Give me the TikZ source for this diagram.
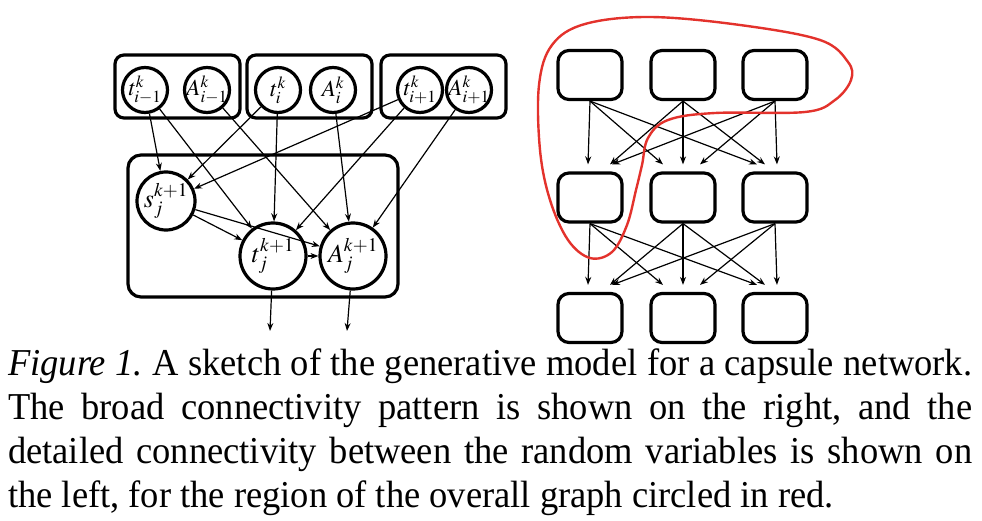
\documentclass[tikz,border=0pt]{standalone}
\usepackage{mathptmx}
\usepackage{fontspec}
\setmainfont{Liberation Serif}[FakeStretch=0.96]
\usetikzlibrary{arrows.meta, positioning, calc}
\definecolor{circledRed}{HTML}{E3322C}

\begin{document}
\begin{tikzpicture}[
    x=1pt, y=-1pt,
    var/.style={circle, draw, line width=3.2pt, minimum size=45pt, inner sep=0pt,
                label={[font=\fontsize{23}{24}\selectfont]center:#1}},
    bigvar/.style={circle, draw, line width=3.2pt, minimum size=66pt, inner sep=0pt,
                   label={[font=\fontsize{26}{28}\selectfont]center:#1}},
    group/.style={rectangle, draw, line width=3.2pt, rounded corners=9pt,
                  minimum width=125pt, minimum height=63pt},
    capsule/.style={rectangle, draw, line width=3.2pt, rounded corners=11pt,
                    minimum width=64pt, minimum height=49pt},
    arrow/.style={-{Stealth[length=8pt, width=6pt]}, line width=1.2pt}
  ]
    \useasboundingbox (0,0) rectangle (982,521);

    % left: detailed variables
    \node[group] (grp1) at (177.5,86.5) {};
    \node[group] (grp2) at (309.5,86.5) {};
    \node[group] (grp3) at (443.5,86.5) {};
    \node[group, minimum width=270pt, minimum height=142pt, rounded corners=13pt] (grpj) at (263,226) {};

    \node[var={$t^k_{i-1}$}] (tim1) at (145,90) {};
    \node[var={$A^k_{i-1}$}] (Aim1) at (207,90) {};
    \node[var={$t^k_{i}$}] (ti) at (278,90) {};
    \node[var={$A^k_{i}$}] (Ai) at (333,90) {};
    \node[var={$t^k_{i+1}$}] (tip1) at (420,90) {};
    \node[var={$A^k_{i+1}$}] (Aip1) at (469,90) {};

    \node[bigvar={$s^{k+1}_j$}, minimum size=58pt] (sj) at (166,201) {};
    \node[bigvar={$t^{k+1}_j$}] (tj) at (273,256) {};
    \node[bigvar={$A^{k+1}_j$}] (Aj) at (353,256) {};
    \coordinate (tjout) at (270,331);
    \coordinate (Ajout) at (347,331);

    \foreach \a/\b in {tim1/sj, tim1/tj, Aim1/Aj, ti/sj, ti/tj, Ai/Aj,
                       tip1/sj, tip1/tj, Aip1/Aj, sj/tj, sj/Aj, tj/Aj}
      \draw[arrow] (\a) -- (\b);
    \draw[arrow] (tj) -- (tjout);
    \draw[arrow] (Aj) -- (Ajout);

    % right: broad connectivity
    \foreach \r/\y in {1/75, 2/197.5, 3/318}
      \foreach \c/\x in {1/590, 2/683, 3/775}
        \node[capsule] (cap-\r-\c) at (\x,\y) {};

    \foreach \r/\n in {1/2, 2/3}
      \foreach \s/\t/\dx in {1/1/-2pt, 2/1/20pt, 3/1/22pt,
                             1/2/-20pt, 2/2/0pt, 3/2/17pt,
                             1/3/-18pt, 2/3/-10pt, 3/3/2pt}
        \draw[arrow] (cap-\r-\s.south) -- ([xshift=\dx, yshift=7pt]cap-\n-\t.north);

    % the circled region
    \draw[circledRed, line width=2.4pt] plot[smooth cycle, tension=0.6] coordinates {
      (642,165) (648,138) (668,120) (715,113) (805,112) (835,100) (851,80)
      (848,62) (820,40) (740,25) (650,17) (585,24) (552,45) (539,85)
      (540,150) (550,200) (568,240) (590,258) (612,252) (627,225) (636,190)};

    % caption
    \node[anchor=north west, text width=964pt, align=justify, inner sep=0pt,
          font=\fontsize{38}{44}\selectfont\frenchspacing] (caption) at (8,349)
      {\textit{Figure 1.} A sketch of the generative model for a capsule network.\linebreak
       The broad connectivity pattern is shown on the right, and the\linebreak
       detailed connectivity between the random variables is shown on\linebreak
       the left, for the region of the overall graph circled in red.};
\end{tikzpicture}
\end{document}
